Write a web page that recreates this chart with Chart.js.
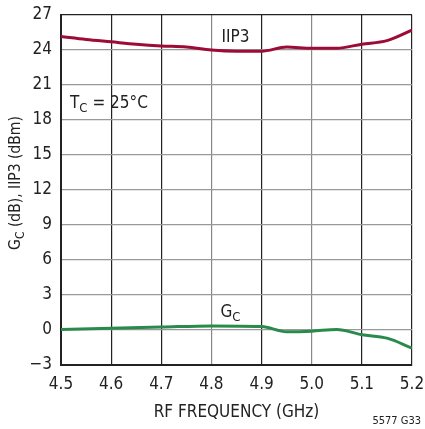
<!DOCTYPE html>
<html>
<head>
<meta charset="utf-8">
<script src="https://cdn.jsdelivr.net/npm/chart.js@4"></script>
<style>
    html, body { margin: 0; padding: 0; background: #fff; }
    #wrap { width: 425px; height: 429px; position: relative; }
</style>
</head>
<body>
<div id="wrap"><canvas id="chart" width="425" height="429"></canvas></div>
<script>
const FONT = "'Liberation Sans Narrow', 'DejaVu Sans Condensed', 'Liberation Sans', sans-serif";

// frequency (GHz) and curves
const iip3Freq = [4.5, 4.55, 4.6, 4.65, 4.7, 4.75, 4.8, 4.85, 4.9, 4.95, 5.0, 5.05, 5.1, 5.15, 5.2];
const iip3Vals = [25.15, 24.9, 24.7, 24.5, 24.35, 24.25, 24.0, 23.9, 23.9, 24.25, 24.15, 24.15, 24.5, 24.8, 25.7];

const gcFreq = [4.5, 4.6, 4.7, 4.8, 4.9, 4.95, 5.0, 5.05, 5.1, 5.15, 5.2];
const gcVals = [0.05, 0.15, 0.25, 0.35, 0.3, -0.15, -0.1, 0.05, -0.4, -0.7, -1.55];

const xTicks = [4.5, 4.6, 4.7, 4.8, 4.9, 5.0, 5.1, 5.2];
const yTicks = [-3, 0, 3, 6, 9, 12, 15, 18, 21, 24, 27];

// vertical grid lines at 4.8 and 5.0 are lighter in the original
const xGridColor = ["#222", "#222", "#222", "#888", "#222", "#888", "#222", "#222"];

function toPoints(xs, ys) {
    return xs.map((x, i) => ({ x, y: ys[i] }));
}

// text labels drawn onto the canvas
const labelsPlugin = {
    id: "labels",
    afterDraw(chart) {
        const ctx = chart.ctx;
        const xs = chart.scales.x;
        const ys = chart.scales.y;
        ctx.save();
        ctx.fillStyle = "#222";
        ctx.textBaseline = "middle";

        // IIP3 label
        ctx.font = "17px " + FONT;
        ctx.textAlign = "center";
        ctx.fillText("IIP3", xs.getPixelForValue(4.848), ys.getPixelForValue(25.1));

        // Tc = 25°C
        drawSub(ctx, "T", "C", " = 25°C", xs.getPixelForValue(4.518), ys.getPixelForValue(19.4), 17, "left");

        // Gc label
        drawSub(ctx, "G", "C", "", xs.getPixelForValue(4.818), ys.getPixelForValue(1.5), 17, "left");

        // y axis title, rotated
        ctx.save();
        ctx.translate(16, 183);
        ctx.rotate(-Math.PI / 2);
        drawSub(ctx, "G", "C", " (dB), IIP3 (dBm)", 0, 0, 15.5, "center");
        ctx.restore();

        // figure code
        ctx.font = "11px " + FONT;
        ctx.textAlign = "right";
        ctx.fillText("5577 G33", 421, 421);
        ctx.restore();
    }
};

function drawSub(ctx, main, sub, rest, x, y, size, align) {
    const mainFont = size + "px " + FONT;
    const subFont = Math.round(size * 0.75) + "px " + FONT;
    ctx.font = mainFont;
    const w1 = ctx.measureText(main).width;
    const w3 = ctx.measureText(rest).width;
    ctx.font = subFont;
    const w2 = ctx.measureText(sub).width;
    const total = w1 + w2 + w3;
    let start = x;
    if (align === "center") start = x - total / 2;
    ctx.textAlign = "left";
    ctx.font = mainFont;
    ctx.fillText(main, start, y);
    ctx.font = subFont;
    ctx.fillText(sub, start + w1, y + size * 0.3);
    ctx.font = mainFont;
    ctx.fillText(rest, start + w1 + w2, y);
}

chart = new Chart(document.getElementById("chart"), {
    type: "scatter",
    data: {
        datasets: [
            {
                label: "IIP3",
                data: toPoints(iip3Freq, iip3Vals),
                showLine: true,
                borderColor: "#9c0c36",
                borderWidth: 3,
                pointRadius: 0,
                cubicInterpolationMode: "monotone"
            },
            {
                label: "GC",
                data: toPoints(gcFreq, gcVals),
                showLine: true,
                borderColor: "#2a8a4c",
                borderWidth: 3,
                pointRadius: 0,
                cubicInterpolationMode: "monotone"
            }
        ]
    },
    options: {
        responsive: false,
        animation: false,
        layout: { padding: { top: 15, right: 13, left: 0, bottom: 0 } },
        plugins: {
            legend: { display: false },
            tooltip: { enabled: false }
        },
        scales: {
            x: {
                type: "linear",
                min: 4.5,
                max: 5.2,
                afterBuildTicks(scale) {
                    scale.ticks = xTicks.map(v => ({ value: v }));
                },
                afterFit(scale) {
                    scale.height = 64;
                    scale.paddingLeft = 0;
                    scale.paddingRight = 0;
                },
                ticks: {
                    color: "#222",
                    font: { family: FONT, size: 17 },
                    padding: 9,
                    maxRotation: 0,
                    callback: v => v.toFixed(1)
                },
                grid: {
                    color: ctx => xGridColor[ctx.index] || "#222",
                    lineWidth: 1.2,
                    drawTicks: false
                },
                border: { color: "#222", width: 2 },
                title: {
                    display: true,
                    text: "RF FREQUENCY (GHz)",
                    color: "#222",
                    font: { family: FONT, size: 17 },
                    padding: { top: 4, bottom: 6 }
                }
            },
            y: {
                min: -3,
                max: 27,
                afterBuildTicks(scale) {
                    scale.ticks = yTicks.map(v => ({ value: v }));
                },
                afterFit(scale) {
                    scale.width = 61;
                    scale.paddingTop = 0;
                    scale.paddingBottom = 0;
                },
                ticks: {
                    color: "#222",
                    font: { family: FONT, size: 17 },
                    padding: 9,
                    callback: v => (v < 0 ? "\u2212" + Math.abs(v) : String(v))
                },
                grid: {
                    color: ctx => (ctx.index === yTicks.length - 1 ? "#222" : "#999"),
                    lineWidth: 1.2,
                    drawTicks: false
                },
                border: { color: "#222", width: 2 }
            }
        }
    },
    plugins: [labelsPlugin]
});
</script>
</body>
</html>
